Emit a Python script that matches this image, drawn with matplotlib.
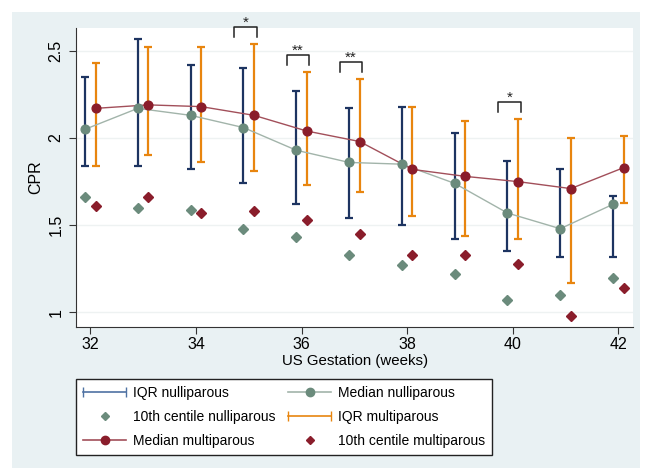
"""CPR by gestation, nulliparous vs multiparous"""

import matplotlib
matplotlib.use("Agg")
import matplotlib.pyplot as plt
from matplotlib import font_manager
from matplotlib.lines import Line2D
from matplotlib.legend_handler import HandlerLine2D
from matplotlib.patches import Rectangle

# データ
weeks = [32, 33, 34, 35, 36, 37, 38, 39, 40, 41, 42]

nulli_q1 = [1.84, 1.84, 1.82, 1.74, 1.62, 1.54, 1.50, 1.42, 1.35, 1.32, 1.32]
nulli_q3 = [2.35, 2.57, 2.42, 2.40, 2.27, 2.17, 2.18, 2.03, 1.87, 1.82, 1.67]
nulli_med = [2.05, 2.17, 2.13, 2.06, 1.93, 1.86, 1.85, 1.74, 1.57, 1.48, 1.62]
nulli_p10 = [1.66, 1.60, 1.59, 1.48, 1.43, 1.33, 1.27, 1.22, 1.07, 1.10, 1.20]

multi_q1 = [1.84, 1.90, 1.86, 1.81, 1.73, 1.69, 1.55, 1.44, 1.42, 1.17, 1.63]
multi_q3 = [2.43, 2.52, 2.52, 2.54, 2.38, 2.34, 2.18, 2.10, 2.11, 2.00, 2.01]
multi_med = [2.17, 2.19, 2.18, 2.13, 2.04, 1.98, 1.82, 1.78, 1.75, 1.71, 1.83]
multi_p10 = [1.61, 1.66, 1.57, 1.58, 1.53, 1.45, 1.33, 1.33, 1.28, 0.98, 1.14]

sig_weeks = [35, 36, 37, 40]
sig_labels = ["*", "**", "**", "*"]

# 色
navy = "#1d3461"
navy_leg = "#4f72a3"
orange = "#e8850f"
nulli_col = "#6b8b7c"
nulli_line = "#a2b4aa"
multi_col = "#8a1d2b"
multi_line = "#a24f5a"
panel = "#e9f1f3"

# フォント
names = {f.name for f in font_manager.fontManager.ttflist}
if "Liberation Sans Narrow" in names:
    plt.rcParams["font.family"] = ["Liberation Sans Narrow", "DejaVu Sans"]
    fs = 11.5
else:
    plt.rcParams["font.family"] = ["Liberation Sans", "DejaVu Sans"]
    fs = 10

fig = plt.figure(figsize=(6.5, 4.69), dpi=100, facecolor="white")
fig.add_artist(Rectangle((0.0185, 0.002), 0.9665, 0.972, transform=fig.transFigure,
                         facecolor=panel, edgecolor="none", zorder=-10))
ax = fig.add_axes([0.117, 0.303, 0.857, 0.637])

off = 0.1
xn = [w - off for w in weeks]
xm = [w + off for w in weeks]

# IQR
err_n = [[m - a for m, a in zip(nulli_med, nulli_q1)], [b - m for m, b in zip(nulli_med, nulli_q3)]]
err_m = [[m - a for m, a in zip(multi_med, multi_q1)], [b - m for m, b in zip(multi_med, multi_q3)]]
ax.errorbar(xn, nulli_med, yerr=err_n, fmt="none", ecolor=navy, elinewidth=1.6,
            capsize=2.6, capthick=1.6, zorder=2)
ax.errorbar(xm, multi_med, yerr=err_m, fmt="none", ecolor=orange, elinewidth=1.6,
            capsize=2.6, capthick=1.6, zorder=2)

# 中央値
ax.plot(xn, nulli_med, color=nulli_line, lw=1.0, zorder=3)
ax.plot(xm, multi_med, color=multi_line, lw=1.0, zorder=3)
ax.plot(xn, nulli_med, "o", color=nulli_col, ms=6.3, zorder=4)
ax.plot(xm, multi_med, "o", color=multi_col, ms=6.3, zorder=4)

# 10th centile
ax.plot(xn, nulli_p10, "D", color=nulli_col, ms=5, zorder=4)
ax.plot(xm, multi_p10, "D", color=multi_col, ms=5, zorder=4)

# 有意差
for w, lab in zip(sig_weeks, sig_labels):
    i = weeks.index(w)
    base = multi_q3[i] + 0.04
    top = base + 0.055
    x0, x1 = w - 0.28, w + 0.15
    ax.plot([x0, x0, x1, x1], [base, top, top, base], color="#222222", lw=1.1,
            clip_on=False, zorder=5)
    ax.text((x0 + x1) / 2, top + 0.004, lab, ha="center", va="baseline",
            fontsize=fs + 1, color="#222222", clip_on=False)

ax.set_xlim(31.73, 42.28)
ax.set_ylim(0.917, 2.63)
ax.set_xticks(range(32, 43, 2))
ax.set_yticks([1, 1.5, 2, 2.5])
ax.set_yticklabels(["1", "1.5", "2", "2.5"], rotation=90, va="center")
ax.tick_params(axis="both", labelsize=fs + 1.5, length=5, color="#333333")
ax.tick_params(axis="y", pad=4)
ax.tick_params(axis="x", pad=2)
ax.yaxis.grid(True, color="#eef2f2", lw=1)
ax.set_axisbelow(True)
for s in ["top", "right"]:
    ax.spines[s].set_visible(False)
for s in ["left", "bottom"]:
    ax.spines[s].set_color("#333333")
ax.set_xlabel("US Gestation (weeks)", fontsize=fs + 0.8, labelpad=2)
ax.set_ylabel("CPR", fontsize=fs + 1.5, labelpad=4)

# 凡例
h_iqr_n = Line2D([], [], color=navy_leg, lw=1.2, marker="|", ms=7)
h_med_n = Line2D([], [], color=nulli_line, lw=1.2, marker="o", ms=6, mfc=nulli_col, mec=nulli_col)
h_p10_n = Line2D([], [], ls="none", marker="D", ms=4.5, color=nulli_col)
h_iqr_m = Line2D([], [], color=orange, lw=1.2, marker="|", ms=7)
h_med_m = Line2D([], [], color=multi_line, lw=1.2, marker="o", ms=6, mfc=multi_col, mec=multi_col)
h_p10_m = Line2D([], [], ls="none", marker="D", ms=4.5, color=multi_col)

handles = [h_iqr_n, h_p10_n, h_med_m, h_med_n, h_iqr_m, h_p10_m]
labels = ["IQR nulliparous", "10th centile nulliparous", "Median multiparous",
          "Median nulliparous", "IQR multiparous", "10th centile multiparous"]
hmap = {h_iqr_n: HandlerLine2D(numpoints=2, marker_pad=0),
        h_iqr_m: HandlerLine2D(numpoints=2, marker_pad=0)}
leg = fig.legend(handles, labels, ncol=2, loc="upper left", bbox_to_anchor=(0.117, 0.192),
                 handler_map=hmap, fontsize=fs, frameon=True, fancybox=False,
                 edgecolor="#222222", framealpha=1, borderaxespad=0, handlelength=3.1,
                 handletextpad=0.5, columnspacing=0.9, labelspacing=0.72, borderpad=0.5)
leg.get_frame().set_linewidth(1.0)

fig.savefig("out.png", dpi=100, facecolor="white")
